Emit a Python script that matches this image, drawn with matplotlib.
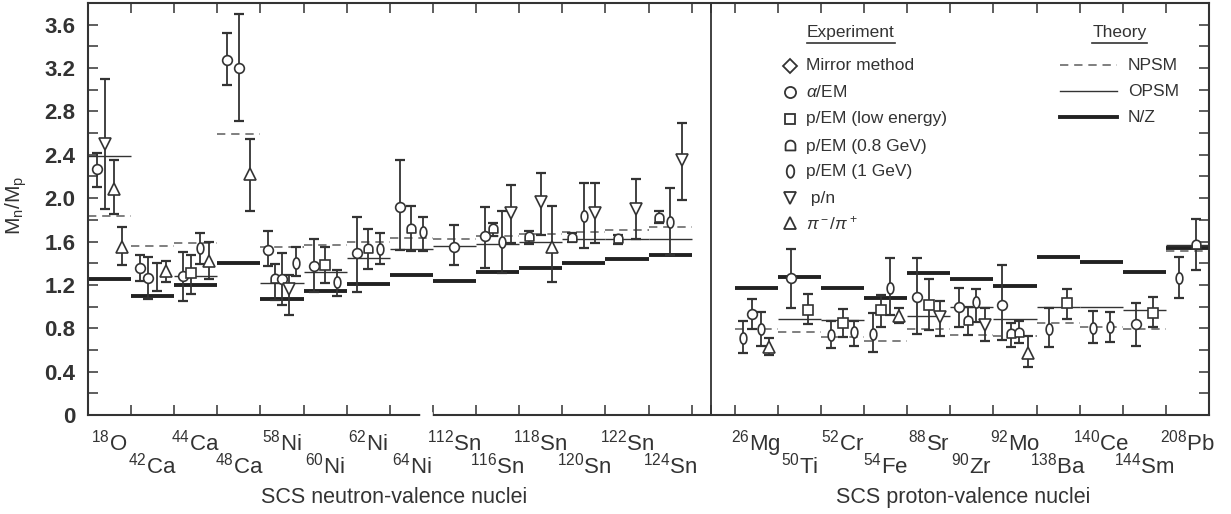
import numpy as np
import matplotlib.pyplot as plt
import matplotlib.transforms as mtransforms

plt.rcParams['font.family'] = ['Liberation Sans', 'DejaVu Sans']
plt.rcParams['mathtext.fontset'] = 'custom'
plt.rcParams['mathtext.rm'] = 'Liberation Sans'
plt.rcParams['mathtext.it'] = 'Liberation Sans:italic'

# Nuclei (mass number, element); first 14 neutron-valence, last 11 proton-valence
mass = ['18', '42', '44', '48', '58', '60', '62', '64',
        '112', '116', '118', '120', '122', '124',
        '26', '50', '52', '54', '88', '90', '92', '138', '140', '144', '208']
elem = ['O', 'Ca', 'Ca', 'Ca', 'Ni', 'Ni', 'Ni', 'Ni',
        'Sn', 'Sn', 'Sn', 'Sn', 'Sn', 'Sn',
        'Mg', 'Ti', 'Cr', 'Fe', 'Sr', 'Zr', 'Mo', 'Ba', 'Ce', 'Sm', 'Pb']

# Theory values per nucleus (nan = not shown)
nan = np.nan
npsm = [1.84, 1.56, 1.59, 2.59, 1.55, 1.57, 1.60, 1.63,
        1.62, 1.65, 1.67, 1.69, 1.71, 1.73,
        0.79, 0.77, 0.72, 0.68, 0.79, 0.74, 0.73, 0.85, 0.81, 0.79, 1.51]
opsm = [2.39, nan, 1.28, nan, 1.22, 1.32, 1.45, 1.53,
        1.56, 1.58, 1.60, 1.62, 1.62, 1.62,
        nan, 0.89, 0.88, nan, 0.91, 1.00, 0.89, 1.00, 1.00, 0.97, 1.57]
nz = [1.25, 1.10, 1.20, 1.40, 1.07, 1.14, 1.21, 1.29,
      1.24, 1.32, 1.36, 1.40, 1.44, 1.48,
      1.17, 1.27, 1.17, 1.08, 1.31, 1.25, 1.19, 1.46, 1.41, 1.32, 1.54]

# Experimental points: nucleus index, method, value, lower and upper error ends
pt_nuc = [0, 0, 0, 0,
          1, 1, 1, 1,
          2, 2, 2, 2,
          3, 3, 3,
          4, 4, 4, 4, 4,
          5, 5, 5,
          6, 6, 6,
          7, 7, 7,
          8,
          9, 9, 9, 9,
          10, 10, 10,
          11, 11, 11,
          12, 12,
          13, 13, 13,
          14, 14, 14, 14,
          15, 15,
          16, 16, 16,
          17, 17, 17, 17,
          18, 18, 18,
          19, 19, 19, 19,
          20, 20, 20, 20,
          21, 21,
          22, 22,
          23, 23,
          24, 24]
pt_kind = ['alpha', 'pn', 'pi', 'pi',
           'alpha', 'alpha', 'none', 'pi',
           'alpha', 'plow', 'p1', 'pi',
           'alpha', 'alpha', 'pi',
           'alpha', 'p08', 'alpha', 'pn', 'p1',
           'alpha', 'plow', 'p1',
           'alpha', 'p08', 'p1',
           'alpha', 'p08', 'p1',
           'alpha',
           'alpha', 'p08', 'p1', 'pn',
           'p08', 'pn', 'pi',
           'p08', 'p1', 'pn',
           'p08', 'pn',
           'p08', 'p1', 'pn',
           'p1', 'alpha', 'p1', 'pi',
           'alpha', 'plow',
           'p1', 'plow', 'p1',
           'p1', 'plow', 'p1', 'pi',
           'alpha', 'plow', 'pn',
           'alpha', 'p08', 'p1', 'pn',
           'alpha', 'p08', 'p08', 'pi',
           'p1', 'plow',
           'p1', 'p1',
           'alpha', 'plow',
           'p1', 'p08']
pt_val = [2.27, 2.50, 2.08, 1.55,
          1.36, 1.26, 1.27, 1.33,
          1.28, 1.31, 1.54, 1.42,
          3.27, 3.20, 2.22,
          1.52, 1.25, 1.25, 1.16, 1.40,
          1.37, 1.38, 1.23,
          1.49, 1.53, 1.53,
          1.92, 1.72, 1.69,
          1.55,
          1.65, 1.72, 1.60, 1.86,
          1.64, 1.96, 1.55,
          1.63, 1.84, 1.86,
          1.62, 1.90,
          1.82, 1.78, 2.35,
          0.71, 0.93, 0.79, 0.63,
          1.26, 0.97,
          0.74, 0.85, 0.77,
          0.75, 0.97, 1.17, 0.91,
          1.09, 1.01, 0.90,
          1.00, 0.87, 1.04, 0.83,
          1.01, 0.75, 0.76, 0.57,
          0.79, 1.03,
          0.80, 0.81,
          0.84, 0.94,
          1.26, 1.57]
pt_lo = [2.10, 1.90, 1.85, 1.38,
         1.24, 1.07, 1.14, 1.23,
         1.05, 1.12, 1.39, 1.25,
         3.04, 2.71, 1.88,
         1.37, 1.06, 1.01, 0.92, 1.28,
         1.13, 1.22, 1.10,
         1.13, 1.35, 1.39,
         1.52, 1.51, 1.51,
         1.38,
         1.36, 1.65, 1.31, 1.59,
         1.58, 1.66, 1.23,
         1.60, 1.54, 1.59,
         1.58, 1.62,
         1.77, 1.48, 1.98,
         0.57, 0.79, 0.64, 0.55,
         0.99, 0.84,
         0.62, 0.72, 0.64,
         0.58, 0.81, 0.92, 0.85,
         0.75, 0.78, 0.73,
         0.81, 0.74, 0.86, 0.68,
         0.69, 0.63, 0.66, 0.44,
         0.63, 0.89,
         0.66, 0.67,
         0.64, 0.81,
         1.08, 1.34]
pt_hi = [2.42, 3.10, 2.35, 1.73,
         1.48, 1.46, 1.40, 1.42,
         1.50, 1.48, 1.68, 1.60,
         3.52, 3.70, 2.55,
         1.70, 1.39, 1.49, 1.29, 1.55,
         1.62, 1.55, 1.34,
         1.83, 1.72, 1.68,
         2.35, 1.93, 1.83,
         1.75,
         1.92, 1.77, 1.88, 2.12,
         1.70, 2.23, 1.93,
         1.68, 2.14, 2.14,
         1.66, 2.18,
         1.88, 2.09, 2.69,
         0.87, 1.07, 0.95, 0.71,
         1.53, 1.12,
         0.87, 0.98, 0.87,
         0.94, 1.11, 1.45, 0.99,
         1.45, 1.25, 1.05,
         1.17, 1.00, 1.16, 0.99,
         1.38, 0.85, 0.87, 0.73,
         0.99, 1.16,
         0.96, 0.95,
         1.03, 1.09,
         1.46, 1.81]

ink = '#333333'

# custom marker shapes: dome (0.8 GeV) and tall ellipse (1 GeV)
a = np.linspace(0, np.pi, 16)
dome = [(np.cos(t), 0.2 + np.sin(t)) for t in a] + [(-1, -0.8), (1, -0.8), (1, 0.2)]
b = np.linspace(0, 2 * np.pi, 31)
ellipse = [(0.6 * np.cos(t), np.sin(t)) for t in b]

markers = {'mirror': ('D', 6), 'alpha': ('o', 7), 'plow': ('s', 6.5),
           'p08': (dome, 7.5), 'p1': (ellipse, 8), 'pn': ('v', 8),
           'pi': ('^', 8), 'none': ('none', 0)}

fig = plt.figure(figsize=(12.31, 5.14), dpi=100)
ax = fig.add_axes([88 / 1231, 1 - 415 / 514, 1121 / 1231, 412 / 514])

# bin index of each nucleus (one empty bin between the two groups)
nbin = [i if i < 14 else i + 1 for i in range(len(mass))]

# theory lines
for i, bx in enumerate(nbin):
    ax.hlines(npsm[i], bx, bx + 1, colors='#6a6a6a', lw=1.2, linestyles=(0, (5, 3.5)), zorder=2)
    ax.hlines(opsm[i], bx, bx + 1, colors=ink, lw=1.0, zorder=2)
    ax.hlines(nz[i], bx, bx + 1, colors='#222222', lw=2.8, zorder=2)

# experimental points, spread across each nucleus bin
pt_nuc = np.array(pt_nuc)
for i, bx in enumerate(nbin):
    idx = np.where(pt_nuc == i)[0]
    n = len(idx)
    for k, j in enumerate(idx):
        x = bx + 0.5 + (k - (n - 1) / 2) * 0.8 / n
        m, ms = markers[pt_kind[j]]
        v = pt_val[j]
        ax.errorbar(x, v, yerr=[[v - pt_lo[j]], [pt_hi[j] - v]], fmt='none',
                    ecolor=ink, elinewidth=1.3, capsize=3.5, capthick=1.6, zorder=3)
        if m != 'none':
            ax.plot(x, v, marker=m, ms=ms, mfc='white', mec=ink, mew=1.2, zorder=4)

# divider between the two groups
ax.axvline(14.45, color=ink, lw=1.3)

ax.set_xlim(0, 26)
ax.set_ylim(0, 3.8)
yt = np.arange(0, 3.61, 0.4)
ax.set_yticks(yt)
ax.set_yticklabels(['0'] + ['%.1f' % v for v in yt[1:]], fontsize=16, fontweight='bold', color=ink)
ax.set_yticks(np.arange(0, 3.81, 0.2), minor=True)
ax.set_xticks(list(range(1, 26)) + [14.45])
ax.set_xticklabels([])
ax.tick_params(which='both', direction='in', top=True, right=True, length=7, width=1.1, color=ink)
ax.tick_params(axis='y', which='major', pad=9)
for s in ax.spines.values():
    s.set_color(ink)
    s.set_linewidth(1.5)
# break in the bottom axis between Ni and Sn
ax.plot([7.78, 7.93], [0, 0], color='white', lw=4, clip_on=False, zorder=6)

# nucleus labels, alternating rows
tr = mtransforms.blended_transform_factory(ax.transData, ax.transAxes)
for i, bx in enumerate(nbin):
    row = i if i < 14 else i - 14
    yy = -0.085 if row % 2 == 0 else -0.142
    ax.text(bx + 0.5, yy, r'$^{%s}\mathrm{%s}$' % (mass[i], elem[i]), transform=tr,
            ha='center', va='baseline', fontsize=16, color=ink)

ax.text(7.1, -0.2, 'SCS neutron-valence nuclei', transform=tr, ha='center', va='center',
        fontsize=15.5, color=ink)
ax.text(20.3, -0.2, 'SCS proton-valence nuclei', transform=tr, ha='center', va='center',
        fontsize=15.5, color=ink)
fig.text(0.013, 1 - 205 / 514, r'M$_\mathrm{n}$/M$_\mathrm{p}$', rotation=90,
         ha='center', va='center', fontsize=15, color=ink)

# legend: experiment
def axx(px):
    return (px - 88) / 1121

def axy(py):
    return (415 - py) / 412

ax.text(axx(851), axy(32), 'Experiment', transform=ax.transAxes, ha='center', va='center',
        fontsize=12.5, color=ink)
ax.plot([axx(807), axx(895)], [axy(43), axy(43)], transform=ax.transAxes, color=ink, lw=1.2)
leg_kind = ['mirror', 'alpha', 'plow', 'p08', 'p1', 'pn', 'pi']
leg_text = ['Mirror method', r'$\alpha$/EM', 'p/EM (low energy)', 'p/EM (0.8 GeV)',
            'p/EM (1 GeV)', ' p/n', r'$\pi^-/\pi^+$']
leg_y = [66, 92, 119, 146, 171, 198, 223]
for kd, tx, py in zip(leg_kind, leg_text, leg_y):
    m, ms = markers[kd]
    ax.plot(axx(790), axy(py), marker=m, ms=ms + 1, mfc='white', mec=ink, mew=1.3,
            transform=ax.transAxes)
    ax.text(axx(806), axy(py), tx, transform=ax.transAxes, ha='left', va='center',
            fontsize=12.5, color=ink)

# legend: theory
ax.text(axx(1120), axy(32), 'Theory', transform=ax.transAxes, ha='center', va='center',
        fontsize=12.5, color=ink)
ax.plot([axx(1092), axx(1147)], [axy(43), axy(43)], transform=ax.transAxes, color=ink, lw=1.2)
th_text = ['NPSM', 'OPSM', 'N/Z']
th_style = [dict(color='#6a6a6a', lw=1.2, ls=(0, (5, 3.5))), dict(color=ink, lw=1.0),
            dict(color='#222222', lw=2.8)]
th_y = [65, 91, 117]
for tx, st, py in zip(th_text, th_style, th_y):
    ax.plot([axx(1060), axx(1117)], [axy(py), axy(py)], transform=ax.transAxes, **st)
    ax.text(axx(1128), axy(py), tx, transform=ax.transAxes, ha='left', va='center',
            fontsize=12.5, color=ink)

fig.savefig('out.png', dpi=100)
